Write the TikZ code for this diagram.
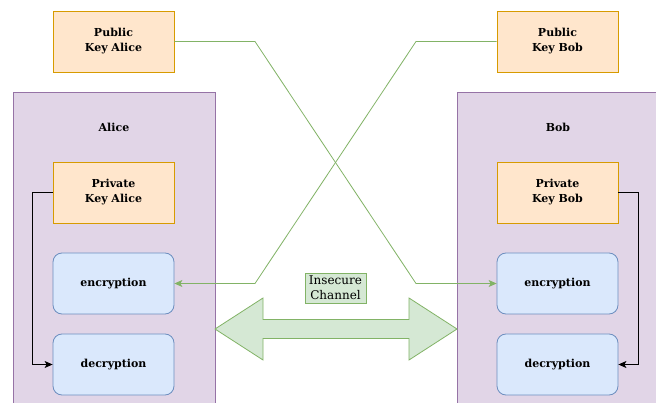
\documentclass[tikz,border=0pt]{standalone}
\usepackage{fontspec}
\setmainfont{DejaVu Serif}
\usepackage{xcolor}
\usetikzlibrary{arrows.meta}

\definecolor{keyfill}{HTML}{FFE6CC}
\definecolor{keyline}{HTML}{D79B00}
\definecolor{partyfill}{HTML}{E1D5E7}
\definecolor{partyline}{HTML}{9673A6}
\definecolor{cryptfill}{HTML}{DAE8FC}
\definecolor{cryptline}{HTML}{6C8EBF}
\definecolor{chanfill}{HTML}{D5E8D4}
\definecolor{chanline}{HTML}{82B366}

\tikzset{
  keybox/.style={draw=keyline, fill=keyfill, line width=0.8pt, minimum width=121pt,
    minimum height=61pt, inner sep=0pt, align=center, font=\fontsize{11}{15}\selectfont\bfseries},
  cryptbox/.style={draw=cryptline, fill=cryptfill, line width=0.8pt, rounded corners=9pt,
    minimum width=121pt, minimum height=61pt, inner sep=0pt, font=\fontsize{11}{15}\selectfont\bfseries},
  party/.style={draw=partyline, fill=partyfill, line width=0.8pt},
  publine/.style={draw=chanline, line width=0.8pt, -{Stealth[length=8pt,width=7pt,inset=2pt]}},
  privline/.style={draw=black, line width=0.8pt, -{Stealth[length=8pt,width=7pt,inset=2pt]}},
}

\begin{document}
\begin{tikzpicture}[x=1pt, y=-1pt]
        \useasboundingbox (0,0) rectangle (656,403);
        \fill[white] (0,0) rectangle (656,403);

        % containers
        \draw[party] (13,92) rectangle (215,410);
        \node[font=\fontsize{11}{15}\selectfont\bfseries] (aliceLabel) at (114,127) {Alice};
        \draw[party] (457,92) rectangle (659,410);
        \node[font=\fontsize{11}{15}\selectfont\bfseries] (bobLabel) at (558,127) {Bob};

        % keys
        \node[keybox] (pubAlice) at (113.5,41.5) {Public\\Key Alice};
        \node[keybox] (pubBob) at (557.5,41.5) {Public\\Key Bob};
        \node[keybox] (privAlice) at (113.5,192.5) {Private\\Key Alice};
        \node[keybox] (privBob) at (557.5,192.5) {Private\\Key Bob};

        % encryption and decryption
        \node[cryptbox] (encAlice) at (113.5,283.5) {encryption};
        \node[cryptbox] (decAlice) at (113.5,364.5) {decryption};
        \node[cryptbox] (encBob) at (557.5,283.5) {encryption};
        \node[cryptbox] (decBob) at (557.5,364.5) {decryption};

        % insecure channel
        \draw[draw=chanline, fill=chanfill, line width=0.8pt]
          (215,329) -- (263,298) -- (263,319.5) -- (409,319.5) -- (409,298) -- (457,329)
          -- (409,360) -- (409,338.5) -- (263,338.5) -- (263,360) -- cycle;
        \node[draw=chanline, fill=chanfill, line width=0.8pt, minimum width=61pt, minimum height=30pt,
          inner sep=0pt, align=center, font=\fontsize{12}{15}\selectfont] (channel) at (335.5,288) {Insecure\\Channel};

        % public keys to the other side
        \draw[publine] (pubAlice.east) -- (255,41.5) -- (416,283.5) -- (encBob.west);
        \draw[publine] (pubBob.west) -- (416,41.5) -- (255,283.5) -- (encAlice.east);

        % private keys to decryption
        \draw[privline] (privAlice.west) -- ++(-20,0) |- (decAlice.west);
        \draw[privline] (privBob.east) -- ++(20,0) |- (decBob.east);
    \end{tikzpicture}
\end{document}
